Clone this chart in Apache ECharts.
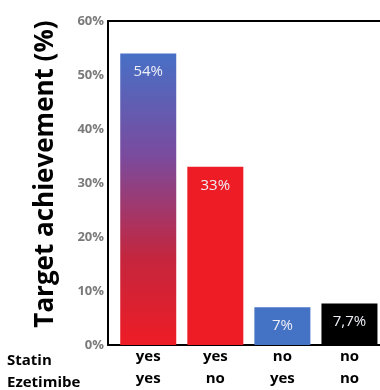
<!DOCTYPE html>
<html><head><meta charset="utf-8">
<script src="https://cdn.jsdelivr.net/npm/echarts@6/dist/echarts.min.js"></script>
<style>html,body{margin:0;padding:0;background:#fff}#c{width:380px;height:390px}</style>
</head><body><div id="c"></div>
<script>
const statin = ['yes', 'yes', 'no', 'no'];
const ezetimibe = ['yes', 'no', 'yes', 'no'];
const values = [54, 33, 7, 7.7];
const valueLabels = ['54%', '33%', '7%', '7,7%'];
const yTicks = [0, 10, 20, 30, 40, 50, 60];
const rowLabels = ['Statin', 'Ezetimibe'];

const colors = [
  {type: 'linear', x: 0, y: 0, x2: 0, y2: 1, colorStops: [
    {offset: 0, color: '#4770c6'}, {offset: 0.35, color: '#7a4b9e'},
    {offset: 0.7, color: '#c4263e'}, {offset: 1, color: '#ee1c25'}]},
  '#ee1c25', '#4472c4', '#000000'
];

const chart = echarts.init(document.getElementById('c'));
chart.setOption({
  animation: false,
  title: {
    text: rowLabels.join('\n'), left: 2, top: 345,
    textStyle: {fontFamily: 'Open Sans', fontWeight: 'bold', fontSize: 15, lineHeight: 22, color: '#000'}
  },
  grid: {left: 108, right: -3, top: 21, bottom: 45, outerBoundsMode: 'none', containLabel: false},
  xAxis: [{
    type: 'value', min: -0.6, max: 3.5,
    axisLine: {show: true, onZero: false, lineStyle: {color: '#000', width: 2}},
    axisTick: {show: false}, splitLine: {show: false},
    axisLabel: {
      customValues: [0, 1, 2, 3], margin: 1,
      formatter: v => statin[Math.round(v)] + '\n' + ezetimibe[Math.round(v)],
      fontFamily: 'Open Sans', fontWeight: 'bold', fontSize: 15, lineHeight: 22, color: '#000'
    }
  }, {
    type: 'value', position: 'top', min: -0.6, max: 3.5,
    axisLine: {show: true, onZero: false, lineStyle: {color: '#000', width: 2}},
    axisTick: {show: false}, axisLabel: {show: false}, splitLine: {show: false}
  }],
  yAxis: {
    type: 'value', min: 0, max: 60, interval: 10,
    name: 'Target achievement (%)', nameLocation: 'middle', nameGap: 49,
    nameTextStyle: {fontFamily: 'Open Sans', fontSize: 26, color: '#000', fontWeight: 'bold', padding: [0, 0, 0, 18]},
    axisLine: {show: true, onZero: false, lineStyle: {color: '#000', width: 2}},
    axisTick: {show: false}, splitLine: {show: false},
    axisLabel: {formatter: '{value}%', margin: 4, color: '#7a7a7a', fontFamily: 'Open Sans', fontWeight: 'bold', fontSize: 13,
      customValues: yTicks}
  },
  series: [{
    type: 'bar', barWidth: 56,
    data: values.map((v, i) => ({value: [i, v], itemStyle: {color: colors[i]}})),
    label: {
      show: true, position: 'insideTop', distance: 11,
      formatter: p => valueLabels[p.dataIndex],
      color: '#eef0f8', fontFamily: 'Open Sans', fontSize: 15
    }
  }]
});
</script></body></html>
